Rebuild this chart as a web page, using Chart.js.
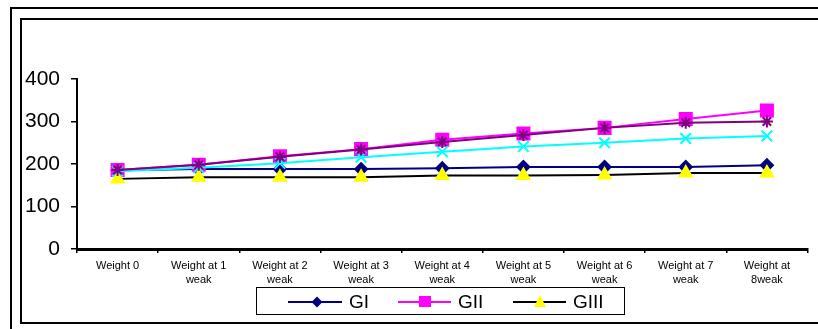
<!DOCTYPE html>
<html>
<head>
<meta charset="utf-8">
<script src="https://cdn.jsdelivr.net/npm/chart.js@4"></script>
<style>
  body { margin: 0; width: 818px; height: 329px; background: #fff; overflow: hidden; position: relative; font-family: "Liberation Sans", Arial, sans-serif; }
  #outer { position: absolute; left: 10px; top: 7px; width: 830px; height: 340px; border-left: 2px solid #000; border-top: 2px solid #000; }
  #inner { position: absolute; left: 20px; top: 18px; width: 820px; height: 302px; border: 2px solid #000; border-right: none; }
  #wrap { position: absolute; left: 22px; top: 20px; width: 796px; height: 302px; }
  #legend { position: absolute; left: 256px; top: 287px; width: 367px; height: 26px; border: 1.5px solid #000; }
  .item { position: absolute; top: 3px; height: 22px; }
  .item svg { position: absolute; left: 0; top: 0; }
  .item span { position: absolute; top: 0; font-size: 19px; line-height: 22px; color: #000; }
</style>
</head>
<body>
<div id="outer"></div>
<div id="inner"></div>
<div id="wrap"><canvas id="chart"></canvas></div>
<div id="legend">
  <div class="item" style="left:31px">
    <svg width="56" height="22"><line x1="0" y1="11" x2="54" y2="11" stroke="#000080" stroke-width="2"/><polygon points="29,5.5 34.5,11 29,16.5 23.5,11" fill="#000080"/></svg>
    <span style="left:61px">GI</span>
  </div>
  <div class="item" style="left:141px">
    <svg width="56" height="22"><line x1="0" y1="11" x2="53" y2="11" stroke="#FF00FF" stroke-width="2"/><rect x="21" y="5" width="12" height="11" fill="#FF00FF"/></svg>
    <span style="left:60px">GII</span>
  </div>
  <div class="item" style="left:256px">
    <svg width="56" height="22"><line x1="0" y1="11" x2="53" y2="11" stroke="#000" stroke-width="2"/><polygon points="27,4 33,16 21,16" fill="#FFFF00"/></svg>
    <span style="left:60px">GIII</span>
  </div>
</div>
<script>
const weeks = [
  "Weight 0",
  ["Weight at 1", "weak"],
  ["Weight at 2", "weak"],
  ["Weight at 3", "weak"],
  ["Weight at 4", "weak"],
  ["Weight at 5", "weak"],
  ["Weight at 6", "weak"],
  ["Weight at 7", "weak"],
  ["Weight at", "8weak"]
]
const gI   = [185, 188, 188, 188, 190, 193, 193, 193, 197]
const gII  = [186, 198, 218, 235, 257, 272, 285, 306, 326]
const gIII = [165, 169, 169, 169, 173, 173, 174, 179, 179]
const gIV  = [183, 191, 202, 216, 229, 241, 250, 260, 266]
const gV   = [186, 198, 217, 234, 252, 268, 285, 297, 300]
const yTicks = [0, 100, 200, 300, 400]

function series(label, data, color, style, radius, pointColor, order){
  return {
    label: label,
    data: data,
    borderColor: color,
    backgroundColor: pointColor,
    borderWidth: 2,
    pointStyle: style,
    pointRadius: radius,
    pointBackgroundColor: pointColor,
    pointBorderColor: pointColor,
    pointBorderWidth: 2,
    tension: 0,
    order: order
  }
}

const ctx = document.getElementById('chart').getContext('2d')
new Chart(ctx, {
  type: 'line',
  data: {
    labels: weeks,
    datasets: [
      series('GI', gI, '#000080', 'rectRot', 6, '#000080', 4),
      series('GII', gII, '#FF00FF', 'rect', 8.5, '#FF00FF', 3),
      series('GIII', gIII, '#000000', 'triangle', 7, '#FFFF00', 2),
      series('GIV', gIV, '#00FFFF', 'crossRot', 7.5, '#00FFFF', 1),
      series('GV', gV, '#800080', 'star', 6, '#800080', 0)
    ]
  },
  options: {
    responsive: true,
    maintainAspectRatio: false,
    animation: false,
    layout: { padding: { top: 59, right: 10, bottom: 0, left: 0 } },
    plugins: { legend: { display: false }, tooltip: { enabled: false } },
    scales: {
      x: {
        offset: true,
        afterFit: s => { s.height = 73 },
        grid: { offset: true, drawOnChartArea: false, drawTicks: true, tickLength: 4, color: '#000', lineWidth: 1.5 },
        border: { display: true, color: '#000', width: 3 },
        ticks: { color: '#000', padding: 6, maxRotation: 0, autoSkip: false, font: { family: 'Liberation Sans', size: 11, lineHeight: 1.28 } }
      },
      y: {
        min: 0,
        max: 400,
        afterFit: s => { s.width = 55 },
        afterBuildTicks: s => { s.ticks = yTicks.map(v => ({ value: v })) },
        grid: { drawOnChartArea: false, drawTicks: true, tickLength: 6, color: '#000', lineWidth: 1.5 },
        border: { display: true, color: '#000', width: 2 },
        ticks: { color: '#000', padding: 11, font: { family: 'Liberation Sans', size: 21 } }
      }
    }
  }
})
</script>
</body>
</html>
